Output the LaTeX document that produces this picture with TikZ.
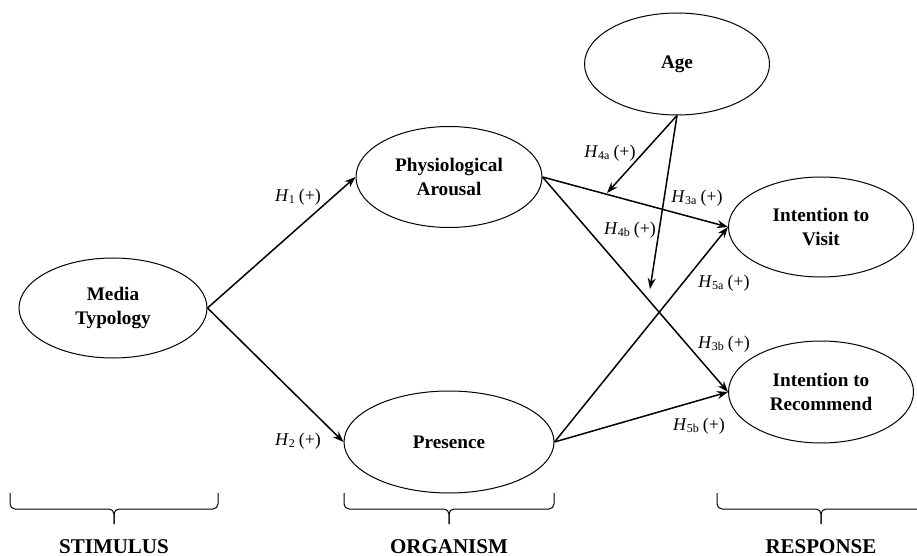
\documentclass[tikz,border=0pt]{standalone}
\usepackage{fontspec}
\setmainfont{Liberation Serif}
\usetikzlibrary{shapes.geometric,arrows.meta}

\begin{document}
\begin{tikzpicture}[x=0.5pt,y=-0.5pt,
  construct/.style={draw,ellipse,line width=0.5pt,inner sep=0pt,align=center,
    font=\fontsize{9.6}{12}\selectfont\bfseries},
  patharrow/.style={line width=0.75pt,-{Stealth[length=5.5pt,width=4pt]}},
  hyplabel/.style={inner sep=0pt,font=\fontsize{9}{10}\selectfont},
  stagelabel/.style={inner sep=0pt,font=\fontsize{10.5}{12}\selectfont\bfseries}]
\useasboundingbox (0,0) rectangle (917,556);
% Drawing constructs
\node[construct,minimum width=94pt,minimum height=50pt] (media) at (113,308) {Media\\Typology};
\node[construct,minimum width=93pt,minimum height=50.5pt] (arousal) at (449,177) {Physiological\\Arousal};
\node[construct,minimum width=105pt,minimum height=51pt] (presence) at (449,442) {Presence};
\node[construct,minimum width=92.5pt,minimum height=51pt] (age) at (677,64) {Age};
\node[construct,minimum width=92.5pt,minimum height=50pt] (visit) at (821,227) {Intention to\\Visit};
\node[construct,minimum width=92.5pt,minimum height=51pt] (recommend) at (821,392) {Intention to\\Recommend};
% Done with constructs; drawing paths
\draw[patharrow] (media.east) -- (arousal.west);
\draw[patharrow] (media.east) -- (presence.west);
\draw[patharrow] (arousal.east) -- (visit.west);
\draw[patharrow] (arousal.east) -- (recommend.west);
\draw[patharrow] (presence.east) -- (visit.west);
\draw[patharrow] (presence.east) -- (recommend.west);
% Moderation by age
\coordinate (modA) at (607,193);
\coordinate (modB) at (650,289);
\draw[patharrow] (age.south) -- (modA);
\draw[patharrow] (age.south) -- (modB);
% Done with paths; drawing hypothesis labels
\node[hyplabel] (h1) at (298,197) {\textit{H}\textsubscript{1}\,(+)};
\node[hyplabel] (h2) at (298,441) {\textit{H}\textsubscript{2}\,(+)};
\node[hyplabel] (h4a) at (610,153) {\textit{H}\textsubscript{4a}\,(+)};
\node[hyplabel] (h3a) at (697,198) {\textit{H}\textsubscript{3a}\,(+)};
\node[hyplabel] (h4b) at (630,230) {\textit{H}\textsubscript{4b}\,(+)};
\node[hyplabel] (h5a) at (724,283) {\textit{H}\textsubscript{5a}\,(+)};
\node[hyplabel] (h3b) at (724,344) {\textit{H}\textsubscript{3b}\,(+)};
\node[hyplabel] (h5b) at (699,426) {\textit{H}\textsubscript{5b}\,(+)};
% Done with labels; drawing stage braces
\foreach \xa/\xb/\stage in {10/218/STIMULUS, 344/554/ORGANISM, 717/925/RESPONSE} {
  \pgfmathsetmacro\xm{(\xa+\xb)/2}
  \draw[line width=0.5pt,rounded corners=2.5pt] (\xa,493) -- (\xa,509) -- (\xm,509) -- (\xm,524);
  \draw[line width=0.5pt,rounded corners=2.5pt] (\xb,493) -- (\xb,509) -- (\xm,509) -- (\xm,524);
  \node[stagelabel] at (\xm,547) {\stage};
}
\end{tikzpicture}
\end{document}
